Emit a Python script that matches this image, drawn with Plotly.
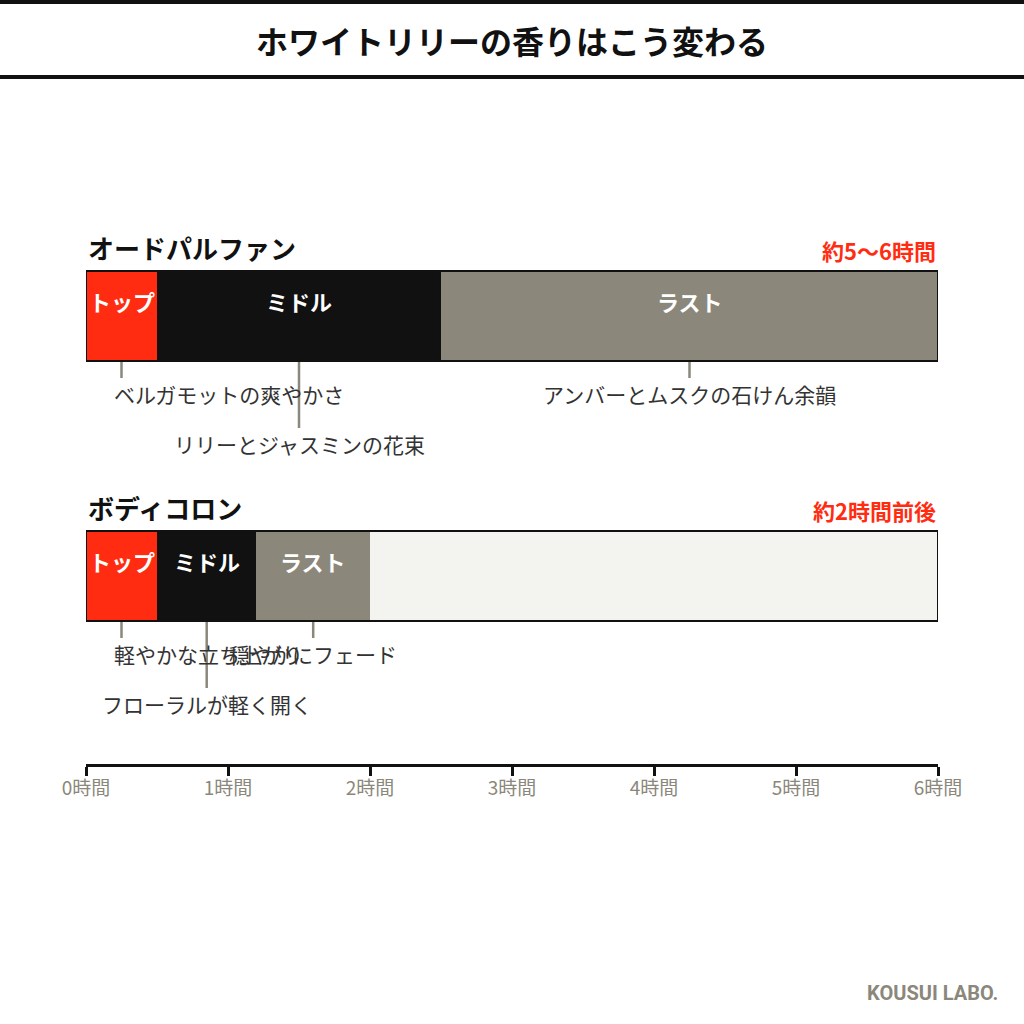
import plotly.graph_objects as go

# data
products = ['オードパルファン', 'ボディコロン']
longevity = ['約5〜6時間', '約2時間前後']
phases = ['トップ', 'ミドル', 'ラスト']
edp_bounds = [0, 0.5, 2.5, 6]
cologne_bounds = [0, 0.5, 1.2, 2.0]
edp_notes = ['ベルガモットの爽やかさ', 'リリーとジャスミンの花束', 'アンバーとムスクの石けん余韻']
cologne_notes = ['軽やかな立ち上がり', 'フローラルが軽く開く', '穏やかにフェード']
hours = [0, 1, 2, 3, 4, 5, 6]
axis_max = 6

phase_colors = ['#ff2c12', '#111111', '#8b877b']
RED = '#ff2c12'
GRAY = '#8b877b'
TEXT = '#333333'
FONT = 'Noto Sans CJK JP'

# layout in pixels
W = H = 1024
L, R = 86, 86
T, B = 100, 260
row_px = 260      # distance between the two bars
bar_px = 90
row0_px = 316     # centre of first bar (page pixel)
y_top = -(row0_px - T) / row_px
y_bot = 1 + (H - B - (row0_px + row_px)) / row_px

fig = go.Figure()

bounds = [edp_bounds, cologne_bounds]
notes = [edp_notes, cologne_notes]

for r, name in enumerate(products):
    # empty track
    fig.add_trace(go.Bar(y=[r], x=[axis_max], base=[0], orientation='h',
                         width=bar_px / row_px, marker_color='#f3f3ef',
                         marker_line_width=0, showlegend=False, hoverinfo='skip'))
    b = bounds[r]
    for i, ph in enumerate(phases):
        fig.add_trace(go.Bar(y=[r], x=[b[i + 1] - b[i]], base=[b[i]], orientation='h',
                             width=bar_px / row_px, marker_color=phase_colors[i],
                             marker_line_width=0, showlegend=False, hoverinfo='skip'))
    # outline
    fig.add_trace(go.Bar(y=[r], x=[axis_max], base=[0], orientation='h',
                         width=bar_px / row_px, marker_color='rgba(0,0,0,0)',
                         marker_line=dict(color='#111111', width=2),
                         showlegend=False, hoverinfo='skip'))

annotations = []
shapes = []

for r, name in enumerate(products):
    annotations.append(dict(x=0, y=r, xref='x', yref='y', text=f'<b>{name}</b>',
                            xanchor='left', yanchor='middle', yshift=69, showarrow=False,
                            font=dict(size=26, color='#111111', family=FONT)))
    annotations.append(dict(x=axis_max, y=r, xref='x', yref='y', text=f'<b>{longevity[r]}</b>',
                            xanchor='right', yanchor='middle', yshift=66, showarrow=False,
                            font=dict(size=22, color=RED, family=FONT)))
    b = bounds[r]
    for i, ph in enumerate(phases):
        mid = (b[i] + b[i + 1]) / 2
        annotations.append(dict(x=mid, y=r, xref='x', yref='y', text=f'<b>{ph}</b>',
                                xanchor='center', yanchor='middle', yshift=15, showarrow=False,
                                font=dict(size=22, color='white', family=FONT)))
        long = (i == 1)
        drop = 128 if long else 78
        shapes.append(dict(type='line', xref='x', yref='y', x0=mid, x1=mid,
                           ysizemode='pixel', yanchor=r, y0=-46, y1=-(drop - 16 if long else 62),
                           line=dict(color=GRAY, width=2.5)))
        if i == 0:
            ann = dict(x=0, xanchor='left', xshift=26)
        else:
            ann = dict(x=mid, xanchor='center')
        ann.update(y=r, xref='x', yref='y', text=notes[r][i], yanchor='middle',
                   yshift=-drop, showarrow=False,
                   font=dict(size=21, color=TEXT, family=FONT))
        annotations.append(ann)

# title and footer
annotations.append(dict(x=0.5, y=1, xref='paper', yref='paper', yshift=T - 40,
                        text='<b>ホワイトリリーの香りはこう変わる</b>', showarrow=False,
                        xanchor='center', yanchor='middle',
                        font=dict(size=32, color='#111111', family=FONT)))
annotations.append(dict(x=1, y=0, xref='paper', yref='paper', xshift=62, yshift=-229,
                        text='<b>KOUSUI LABO.</b>', showarrow=False,
                        xanchor='right', yanchor='middle',
                        font=dict(size=20, color=GRAY, family='Roboto')))

for off in [T - 2, T - 77]:
    shapes.append(dict(type='line', xref='paper', yref='paper', xsizemode='pixel', xanchor=0,
                       x0=-L, x1=W - L, ysizemode='pixel', yanchor=1, y0=off, y1=off,
                       line=dict(color='#111111', width=4)))

fig.update_layout(
    width=W, height=H,
    margin=dict(l=L, r=R, t=T, b=B),
    paper_bgcolor='white', plot_bgcolor='white',
    barmode='overlay', bargap=0,
    annotations=annotations, shapes=shapes,
    hovermode=False,
    font=dict(family=FONT),
)
fig.update_xaxes(range=[0, axis_max], tickvals=hours, ticktext=[f'{h}時間' for h in hours],
                 showline=True, linecolor='#111111', linewidth=2.5,
                 ticks='outside', ticklen=9, tickwidth=2.5, tickcolor='#111111',
                 ticklabelstandoff=-4,
                 showgrid=False, zeroline=False, fixedrange=True,
                 tickfont=dict(size=19, color=GRAY, family=FONT))
fig.update_yaxes(range=[y_bot, y_top], showticklabels=False, showgrid=False,
                 zeroline=False, showline=False, fixedrange=True)

# drop the default page margin so the figure starts at the window corner
fig.write_html('out.html', config={'displayModeBar': False},
               post_script="document.body.style.margin='0';")
